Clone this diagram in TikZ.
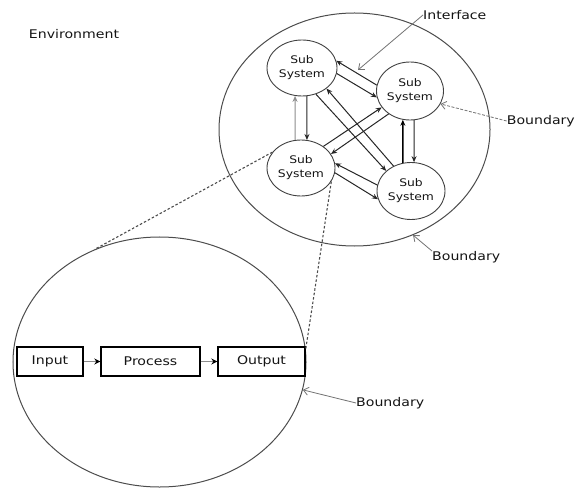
\documentclass[tikz,border=0pt]{standalone}
\usepackage{fontspec}
\newfontfamily\lblfont[FakeStretch=1.18]{DejaVu Sans}
\usetikzlibrary{shapes.geometric,arrows.meta}
\begin{document}
\begin{tikzpicture}[x=1bp,y=-1bp,
  lbl/.style={font=\lblfont\fontsize{12}{14}\selectfont, text=black!92, inner sep=0},
  subsys/.style={ellipse, draw=black!75, line width=0.9bp, inner sep=0, align=center,
    font=\lblfont\fontsize{10.5}{14}\selectfont, text=black!92},
  boundary/.style={ellipse, draw=black!70, line width=1bp, inner sep=0},
  flow/.style={draw=black!85, line width=1bp, -{Stealth[length=6bp,width=5bp]}},
  stagebox/.style={draw=black, line width=1.4bp, minimum height=29bp, inner sep=0,
    font=\lblfont\fontsize{12}{14}\selectfont, text=black!92},
  stageflow/.style={draw=black!45, line width=1.2bp, -{Stealth[length=6bp,width=6bp,color=black]}},
  pointer/.style={draw=black!55, line width=0.8bp, -{Straight Barb[length=5bp,width=8bp]}},
  zoomline/.style={draw=black!70, line width=1.1bp, dash pattern=on 2.5bp off 2bp},
]
\useasboundingbox (0,0) rectangle (577,488);

% system boundaries
\node[boundary, minimum width=271bp, minimum height=233bp] (outer) at (354.5,129.5) {};
\node[boundary, minimum width=293bp, minimum height=250bp] (detail) at (159.5,362) {};

% sub systems
\node[subsys, minimum width=70bp, minimum height=56bp] (s1) at (302,68) {Sub\\System};
\node[subsys, minimum width=67bp, minimum height=58bp] (s2) at (410,91) {Sub\\System};
\node[subsys, minimum width=68bp, minimum height=56bp] (s3) at (301,168) {Sub\\System};
\node[subsys, minimum width=68bp, minimum height=57bp] (s4) at (411,191) {Sub\\System};

% interfaces between sub systems
\draw[flow] (s2.170) -- (s1.12.5);
\draw[flow] (s1.-9) -- (s2.191);
\draw[flow, draw=black!45] (s3.102) -- (s1.256);
\draw[flow] (s1.-80) -- (s3.78);
\draw[flow, draw=black, line width=1.4bp] (s4.106) -- (s2.256);
\draw[flow] (s2.-82) -- (s4.84);
\draw[flow] (s4.125) -- (s1.-40);
\draw[flow] (s1.-62) -- (s4.141);
\draw[flow] (s3.44) -- (s2.210.6);
\draw[flow] (s2.227.5) -- (s3.25);
\draw[flow] (s4.170) -- (s3.8);
\draw[flow] (s3.-8) -- (s4.194);

% input - process - output
\node[stagebox, minimum width=66bp] (inp) at (50,361.5) {Input};
\node[stagebox, minimum width=99bp] (proc) at (150.5,361.5) {Process};
\node[stagebox, minimum width=87bp] (outp) at (261.5,361.5) {Output};
\draw[stageflow] (inp) -- (proc);
\draw[stageflow] (proc) -- (outp);

% sub system shown in detail
\draw[zoomline] (s3.151) -- (detail.120.3);
\draw[zoomline] (s3.-24) -- (detail.5.5);

% labels
\node[lbl] (env) at (74,34) {Environment};
\node[lbl, anchor=west] (iface) at (423,15) {Interface};
\node[lbl, anchor=east] (b1) at (575,121) {Boundary};
\node[lbl, anchor=west] (b2) at (432,257) {Boundary};
\node[lbl, anchor=west] (b3) at (356,403) {Boundary};
\coordinate (ifacetip) at (358,70);

\draw[pointer] (iface.west) -- (ifacetip);
\draw[pointer, dash pattern=on 3bp off 1.5bp] (b1.west) -- (s2.-23.6);
\draw[pointer] (b2.north west) -- (outer.-61.5);
\draw[pointer] (b3.west) -- (detail.-11.7);
\end{tikzpicture}
\end{document}
